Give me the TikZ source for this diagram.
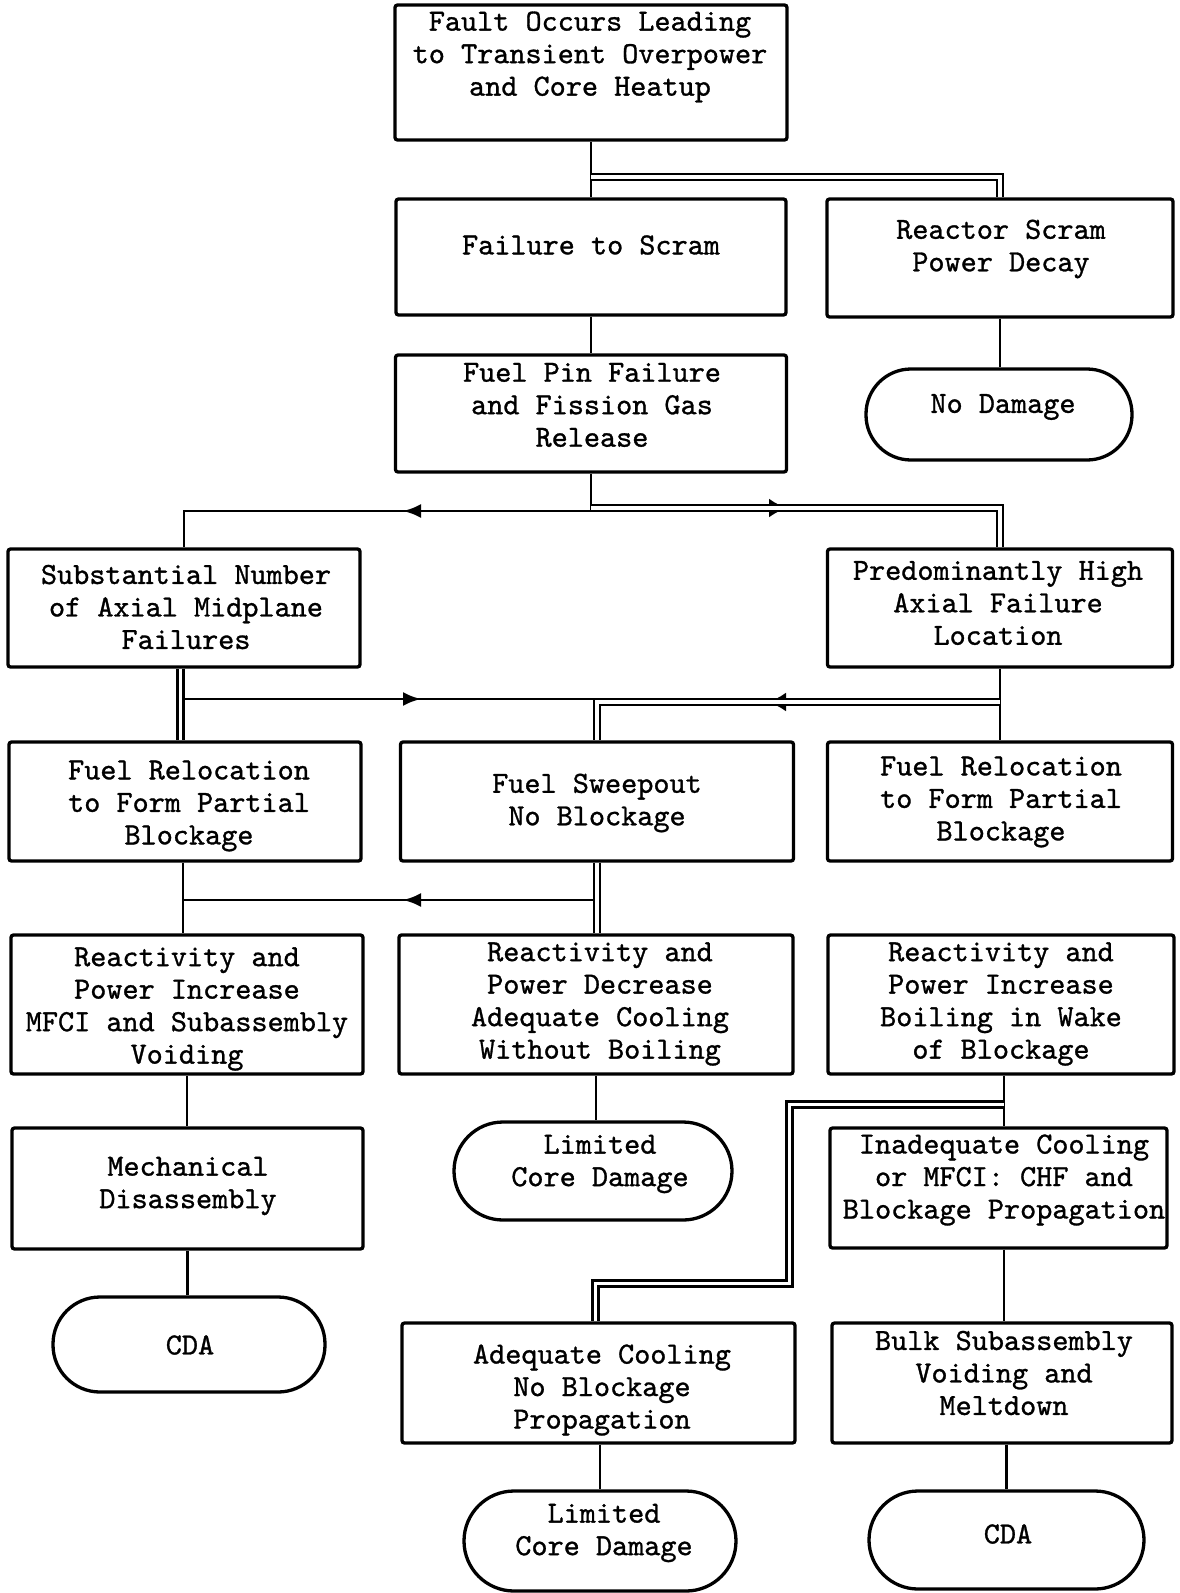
\documentclass[tikz,border=0pt]{standalone}
\usepackage{fontspec}
\newfontfamily\flowfont{lmmono10-regular.otf}[FakeBold=1]
\usetikzlibrary{arrows.meta,calc}

\tikzset{
  box/.style={draw, line width=3.3pt, rounded corners=2.5pt, inner sep=0pt},
  term/.style={draw, line width=3.3pt, inner sep=0pt},
  txt/.style={align=center, inner sep=0pt,
    font=\flowfont\fontsize{30.7}{32.5}\selectfont},
  link/.style={line width=2.8pt},
  dbl/.style={line width=2.4pt, double=white, double distance=3.6pt},
  tipS/.style={line width=2.8pt, -{Latex[length=18pt,width=14pt]}},
  tipD/.style={line width=2.4pt, -{Latex[length=18pt,width=19pt]}},
  gap/.style={white, line width=3.6pt}
}

\begin{document}
\begin{tikzpicture}[x=1pt,y=-1pt]
\useasboundingbox (0,0) rectangle (1180,1593);
\fill[white] (0,0) rectangle (1180,1593);

% ---- boxes and terminals ----
\node[box, minimum width=392pt, minimum height=135pt] (fault) at (591,72.5) {};
\node[box, minimum width=390pt, minimum height=116pt] (failscram) at (591,257) {};
\node[box, minimum width=346pt, minimum height=118pt] (reactor) at (1000,258) {};
\node[box, minimum width=391pt, minimum height=117pt] (fuelpin) at (591,413.5) {};
\node[term, minimum width=266pt, minimum height=91pt, rounded corners=45pt] (nodamage) at (999,414.5) {};
\node[box, minimum width=352pt, minimum height=118pt] (subst) at (184,608) {};
\node[box, minimum width=345pt, minimum height=118pt] (predom) at (1000,608) {};
\node[box, minimum width=352pt, minimum height=119pt] (relocL) at (185,801.5) {};
\node[box, minimum width=393pt, minimum height=119pt] (sweep) at (597,801.5) {};
\node[box, minimum width=345pt, minimum height=119pt] (relocR) at (1000,801.5) {};
\node[box, minimum width=352pt, minimum height=139pt] (reactL) at (187,1004.5) {};
\node[box, minimum width=394pt, minimum height=139pt] (reactM) at (596,1004.5) {};
\node[box, minimum width=346pt, minimum height=139pt] (reactR) at (1001,1004.5) {};
\node[box, minimum width=351pt, minimum height=121pt] (mech) at (187.5,1188.5) {};
\node[term, minimum width=278pt, minimum height=98pt, rounded corners=49pt] (lim1) at (593,1171) {};
\node[box, minimum width=337pt, minimum height=120pt] (inadeq) at (998.5,1188) {};
\node[term, minimum width=272pt, minimum height=95pt, rounded corners=47pt] (cda1) at (189,1344.5) {};
\node[box, minimum width=393pt, minimum height=120pt] (adeq) at (598.5,1383) {};
\node[box, minimum width=340pt, minimum height=120pt] (bulk) at (1002,1383) {};
\node[term, minimum width=272pt, minimum height=100pt, rounded corners=50pt] (lim2) at (600,1541) {};
\node[term, minimum width=275pt, minimum height=98pt, rounded corners=49pt] (cda2) at (1006.5,1540) {};

% ---- texts ----
\node[txt] (fault-t) at (590,57) {Fault Occurs Leading\\to Transient Overpower\\and Core Heatup};
\node[txt] (failscram-t) at (591,245) {Failure to Scram};
\node[txt] (reactor-t) at (1001,249) {Reactor Scram\\Power Decay};
\node[txt] (fuelpin-t) at (592,405) {Fuel Pin Failure\\and Fission Gas\\Release};
\node[txt] (nodamage-t) at (1003,407) {No Damage};
\node[txt] (subst-t) at (186,607) {Substantial Number\\of Axial Midplane\\Failures};
\node[txt] (predom-t) at (998,603) {Predominantly High\\Axial Failure\\Location};
\node[txt] (relocL-t) at (189,806) {Fuel Relocation\\to Form Partial\\Blockage};
\node[txt] (sweep-t) at (597,803) {Fuel Sweepout\\No Blockage};
\node[txt] (relocR-t) at (1001,802) {Fuel Relocation\\to Form Partial\\Blockage};
\node[txt] (reactL-t) at (187,1009) {Reactivity and\\Power Increase\\MFCI and Subassembly\\Voiding};
\node[txt] (reactM-t) at (600,1004) {Reactivity and\\Power Decrease\\Adequate Cooling\\Without Boiling};
\node[txt] (reactR-t) at (1001,1004) {Reactivity and\\Power Increase\\Boiling in Wake\\of Blockage};
\node[txt] (mech-t) at (188,1186) {Mechanical\\Disassembly};
\node[txt] (lim1-t) at (600,1164) {Limited\\Core Damage};
\node[txt] (inadeq-t) at (1004,1180) {Inadequate Cooling\\or MFCI: CHF and\\Blockage Propagation};
\node[txt] (cda1-t) at (190,1345) {CDA};
\node[txt] (adeq-t) at (602,1390) {Adequate Cooling\\No Blockage\\Propagation};
\node[txt] (bulk-t) at (1004,1373) {Bulk Subassembly\\Voiding and\\Meltdown};
\node[txt] (lim2-t) at (604,1533) {Limited\\Core Damage};
\node[txt] (cda2-t) at (1008,1534) {CDA};

% ---- junction points ----
\coordinate (scramfork) at (591,177);
\coordinate (pinfork) at (591,511);
\coordinate (pinforkd) at (591,508);
\coordinate (colLd) at (180.5,0);
\coordinate (midL) at (183.5,699);
\coordinate (midM) at (594,699);
\coordinate (predfork) at (1000,702);
\coordinate (colL) at (183,0);
\coordinate (lowL) at (183,900);
\coordinate (lowM) at (594,900);
\coordinate (colR) at (1004,0);
\coordinate (wakefork) at (1004,1104.5);
\coordinate (wakebend) at (789.5,1283.5);
\coordinate (adeqin) at (595.5,1283.5);

% ---- connectors ----
\draw[link] (fault.south) -- (failscram.north);
\draw[dbl] (scramfork) -| (reactor.north);
\draw[link] (failscram.south) -- (fuelpin.north);
\draw[link] (reactor.south) -- (reactor.south |- nodamage.north);

\draw[link] (fuelpin.south) -- (pinfork) -| (subst.north);
\draw[dbl] (pinforkd) -| (predom.north);

\draw[dbl] (subst.south -| colLd) -- (relocL.north -| colLd);
\draw[link] (midL) -- (midM);
\draw[link] (predom.south) -- (relocR.north);
\draw[dbl] (predfork) -| (sweep.north);

\draw[link] (relocL.south -| colL) -- (reactL.north -| colL);
\draw[dbl] (sweep.south) -- (sweep.south |- reactM.north);
\draw[link] (lowL) -- (lowM);

\draw[link] (reactL.south) -- (reactL.south |- mech.north);
\draw[link] (mech.south) -- (mech.south |- cda1.north);
\draw[link] (reactM.south) -- (reactM.south |- lim1.north);
\draw[link] (reactR.south -| colR) -- (inadeq.north -| colR);
\draw[dbl] (wakefork) -| (wakebend) -- (adeqin) -- (adeqin |- adeq.north);
\draw[link] (inadeq.south -| colR) -- (bulk.north -| colR);
\draw[link] (adeq.south -| lim2.north) -- (lim2.north);
\draw[link] (bulk.south -| cda2.north) -- (cda2.north);

% ---- arrowheads on the branch lines ----
\coordinate (arrA) at (403,511);
\coordinate (arrB) at (787,508);
\coordinate (arrC) at (421,699);
\coordinate (arrD) at (768,702);
\coordinate (arrE) at (403,900);
\draw[tipS] ($(arrA)+(18,0)$) -- (arrA);
\draw[tipD] ($(arrB)+(-18,0)$) -- (arrB);
\draw[gap] ($(arrB)+(-21,0)$) -- ($(arrB)+(2,0)$);
\draw[tipS] ($(arrC)+(-18,0)$) -- (arrC);
\draw[tipD] ($(arrD)+(18,0)$) -- (arrD);
\draw[gap] ($(arrD)+(21,0)$) -- ($(arrD)+(-2,0)$);
\draw[tipS] ($(arrE)+(18,0)$) -- (arrE);
\end{tikzpicture}
\end{document}
